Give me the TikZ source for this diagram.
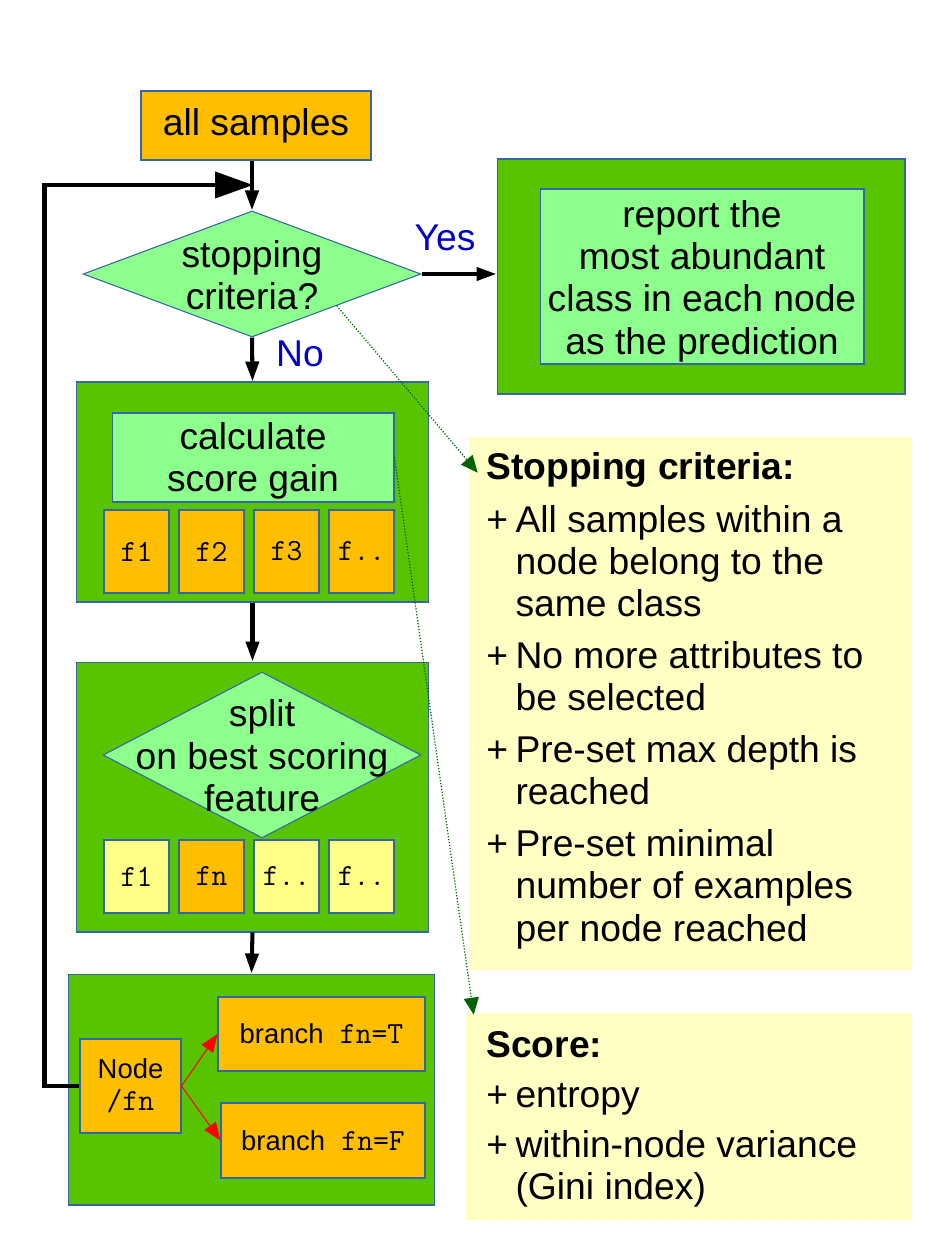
\documentclass[tikz,border=0pt]{standalone}
\usepackage{fontspec}
\setmainfont{Liberation Sans}
\usetikzlibrary{arrows.meta, shapes.geometric, calc}

\definecolor{gold}{HTML}{FFBF00}
\definecolor{leaf}{HTML}{58C400}
\definecolor{mint}{HTML}{8CFF8C}
\definecolor{cream}{HTML}{FFFFC4}
\definecolor{lemon}{HTML}{FFFF88}
\definecolor{edge}{HTML}{3465A4}
\definecolor{answer}{HTML}{0000C8}
\definecolor{hint}{HTML}{006400}

\newcommand{\largetxt}{\fontsize{21.2}{24.1}\selectfont}
\newcommand{\smalltxt}{\fontsize{15.6}{18}\selectfont}
\newcommand{\monotxt}{\fontsize{17.5}{18}\selectfont\ttfamily}
\newcommand{\plus}{+\hspace{0.2em}}
\newcommand{\hangin}{\hspace*{0.784em}}

\begin{document}
\begin{tikzpicture}[
    x=0.02cm, y=-0.02cm,
    box/.style={draw=edge, line width=0.6pt, inner sep=0pt, align=center},
    panel/.style={box, fill=leaf},
    task/.style={box, fill=mint, font=\largetxt},
    words/.style={font=\largetxt, align=center, inner sep=0pt},
    feat/.style={box, fill=gold, font=\monotxt, minimum width=1.3cm},
    test/.style={diamond, draw=edge, line width=0.6pt, fill=mint, inner sep=0pt},
    note/.style={fill=cream, inner sep=0pt},
    reply/.style={text=answer, font=\largetxt, inner sep=0pt},
    flow/.style={line width=2.3pt, -{Triangle[length=0.4cm, width=0.26cm]}},
    choice/.style={red, line width=0.6pt, -{Triangle[length=0.36cm, width=0.28cm]}},
    hintline/.style={hint, densely dotted, line width=0.7pt,
        -{Triangle[length=0.34cm, width=0.3cm]}},
]
\useasboundingbox (0,0) rectangle (934,1246);

% =============================================================================
% Start and stopping test
% =============================================================================
\node[box, fill=gold, font=\largetxt, minimum width=4.6cm, minimum height=1.38cm]
    (all) at (256,125.5) {all samples};

\node[test, minimum width=6.76cm, minimum height=2.52cm] (crit) at (252,274) {};
\node[words] (crittxt) at (252,275) {stopping\\criteria?};

\node[panel, minimum width=8.16cm, minimum height=4.7cm] (report) at (701,276.5) {};
\node[task, minimum width=6.48cm, minimum height=3.5cm] (reportbox) at (702,276.5) {};
\node[words] (reporttxt) at (702,281)
    {report the\\most abundant\\class in each node\\as the prediction};

\node[reply] (yes) at (445,238) {Yes};
\node[reply] (no) at (300,354) {No};

% =============================================================================
% Score every feature
% =============================================================================
\node[panel, minimum width=7.06cm, minimum height=4.4cm] (calc) at (252.5,492) {};
\node[task, minimum width=5.64cm, minimum height=1.78cm] (gain) at (253,457.5) {};
\node[words] (gaintxt) at (253,461) {calculate\\score gain};

\foreach \lbl [count=\i] in {f1, f2, f3, f..} {
    \node[feat, minimum height=1.66cm] (c\i) at ({61.5+75*\i}, 551.5) {\lbl};
}

% =============================================================================
% Split on the best one
% =============================================================================
\node[panel, minimum width=7.06cm, minimum height=5.4cm] (split) at (252.5,797) {};
\node[test, minimum width=6.36cm, minimum height=3.32cm] (best) at (262,755) {};
\node[words] (besttxt) at (262,756) {split\\on best scoring\\feature};

\foreach \lbl/\col [count=\i] in {f1/lemon, fn/gold, f../lemon, f../lemon} {
    \node[feat, fill=\col, minimum height=1.46cm] (s\i) at ({61.5+75*\i}, 876.5) {\lbl};
}

% =============================================================================
% New node and its branches
% =============================================================================
\node[panel, minimum width=7.34cm, minimum height=4.62cm] (grow) at (251.5,1089.5) {};
\node[box, fill=gold, font=\smalltxt, minimum width=2.02cm, minimum height=1.88cm]
    (nd) at (130.5,1086) {Node\\{\monotxt/fn}};
\node[box, fill=gold, font=\smalltxt, minimum width=4.14cm, minimum height=1.48cm]
    (brT) at (321.5,1034) {branch\hspace{0.6em}{\monotxt fn=T}};
\node[box, fill=gold, font=\smalltxt, minimum width=4.08cm, minimum height=1.5cm]
    (brF) at (323,1140.5) {branch\hspace{0.6em}{\monotxt fn=F}};

\draw[choice] (nd.east) -- (brT.west);
\draw[choice] (nd.east) -- (brF.west);

% =============================================================================
% Notes
% =============================================================================
\node[note, minimum width=8.86cm, minimum height=10.66cm] (stop) at (690.5,703.5) {};
\node[anchor=north west, inner sep=0pt, align=left, font=\largetxt] (stoptxt)
    at (486,452) {\textbf{Stopping criteria:}\\[6pt]
    \plus All samples within a\\
    \hangin node belong to the\\
    \hangin same class\\[5.3pt]
    \plus No more attributes to\\
    \hangin be selected\\[5.3pt]
    \plus Pre-set max depth is\\
    \hangin reached\\[5.3pt]
    \plus Pre-set minimal\\
    \hangin number of examples\\
    \hangin per node reached};

\node[note, minimum width=8.92cm, minimum height=4.14cm] (score) at (689,1116.5) {};
\node[anchor=north west, inner sep=0pt, align=left, font=\largetxt] (scoretxt)
    at (486,1031) {\textbf{Score:}\\[4.3pt]
    \plus entropy\\[4.3pt]
    \plus within-node variance\\
    \hangin (Gini index)};

% =============================================================================
% Flow arrows
% =============================================================================
\coordinate (join) at (253,185);

\draw[flow] (all.south -| crit.north) -- (crit.north);
\draw[flow] (crit.east) -- (crit.east -| report.west);
\draw[flow] (crit.south) -- (calc.north);
\draw[flow] (calc.south) -- (split.north);
\draw[flow] (split.south) -- (grow.north);

% back to the test
\draw[flow, -{Triangle[length=0.76cm, width=0.52cm]}]
    (nd.west) -- ++(-35,0) |- (join);

% pointers to the notes
\draw[hintline] (crit.south east) -- ($(stop.north west)+(9,36)$);
\draw[hintline] (gain.east) -- ($(score.north west)+(8,2)$);

\end{tikzpicture}
\end{document}
